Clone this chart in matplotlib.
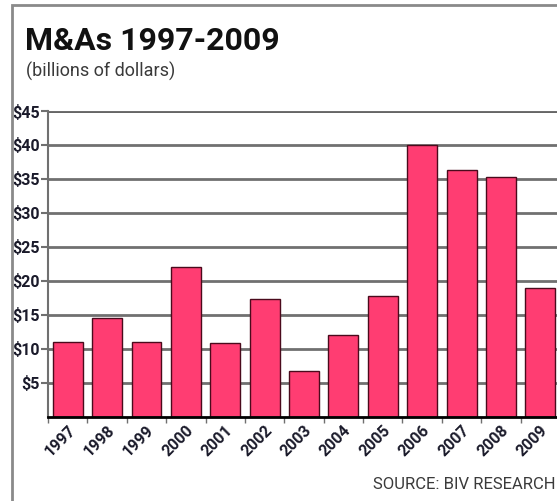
import numpy as np
import matplotlib.pyplot as plt
from matplotlib.patches import Rectangle

# Дані
years = ["1997", "1998", "1999", "2000", "2001", "2002", "2003",
         "2004", "2005", "2006", "2007", "2008", "2009"]
values = [11, 14.6, 11, 22, 10.9, 17.3, 6.7, 12, 17.8, 40, 36.3, 35.3, 19]
y_ticks = [5, 10, 15, 20, 25, 30, 35, 40, 45]
y_labels = ["$%d" % v for v in y_ticks]

narrow = ["Roboto", "DejaVu Sans"]
plt.rcParams["font.stretch"] = "condensed"

fig = plt.figure(figsize=(5.57, 5.01), dpi=100)
fig.patch.set_facecolor("white")

# Рамка
fig.patches.append(Rectangle((0.0215, -0.1), 1.2, 1.09, transform=fig.transFigure,
                             fill=False, edgecolor="#8a8a8a", linewidth=2))

ax = fig.add_axes([0.0862, 0.1683, 0.9192, 0.6101])
x = np.arange(len(years))
ax.bar(x, values, width=0.76, color="#ff3d72", edgecolor="#4a0a1c",
       linewidth=1, zorder=3)

ax.set_xlim(-0.5, len(years) - 0.5)
ax.set_ylim(0, 45)
ax.set_yticks(y_ticks)
ax.set_yticklabels(y_labels, fontfamily=narrow, fontweight="bold",
                   fontsize=11.5, color="#1a1a2a")
ax.yaxis.grid(True, color="#707070", linewidth=2, zorder=0)
ax.tick_params(axis="y", length=5, width=1.5, color="#707070", pad=1)

# Мітки по осі X
ax.set_xticks(np.arange(-0.5, len(years), 1.0))
ax.set_xticklabels([])
ax.tick_params(axis="x", which="major", length=4, width=1, color="#707070")
ax.set_xticks(x, minor=True)
ax.set_xticklabels(years, minor=True, rotation=45, ha="right",
                   rotation_mode="anchor", fontfamily=narrow,
                   fontweight="bold", fontsize=11.5, color="#1a1a2a")
ax.tick_params(axis="x", which="minor", length=0, pad=4)

for s in ["top", "right"]:
    ax.spines[s].set_visible(False)
ax.spines["left"].set_color("#707070")
ax.spines["left"].set_linewidth(1.5)
ax.spines["bottom"].set_color("black")
ax.spines["bottom"].set_linewidth(2)
ax.spines["bottom"].set_zorder(4)
ax.axhline(45, color="black", linewidth=2, zorder=1)

fig.text(0.045, 0.9, "M&As 1997-2009", fontfamily=narrow, fontweight="bold",
         fontsize=23, color="#111111", ha="left", va="baseline")
fig.text(0.047, 0.846, "(billions of dollars)", fontfamily=narrow,
         fontsize=13, color="#3a3a3a", ha="left", va="baseline")
fig.text(0.998, 0.024, "SOURCE: BIV RESEARCH", fontfamily=narrow,
         fontsize=12, color="#3a3a3a", ha="right", va="baseline")

fig.savefig("out.png", dpi=100)
